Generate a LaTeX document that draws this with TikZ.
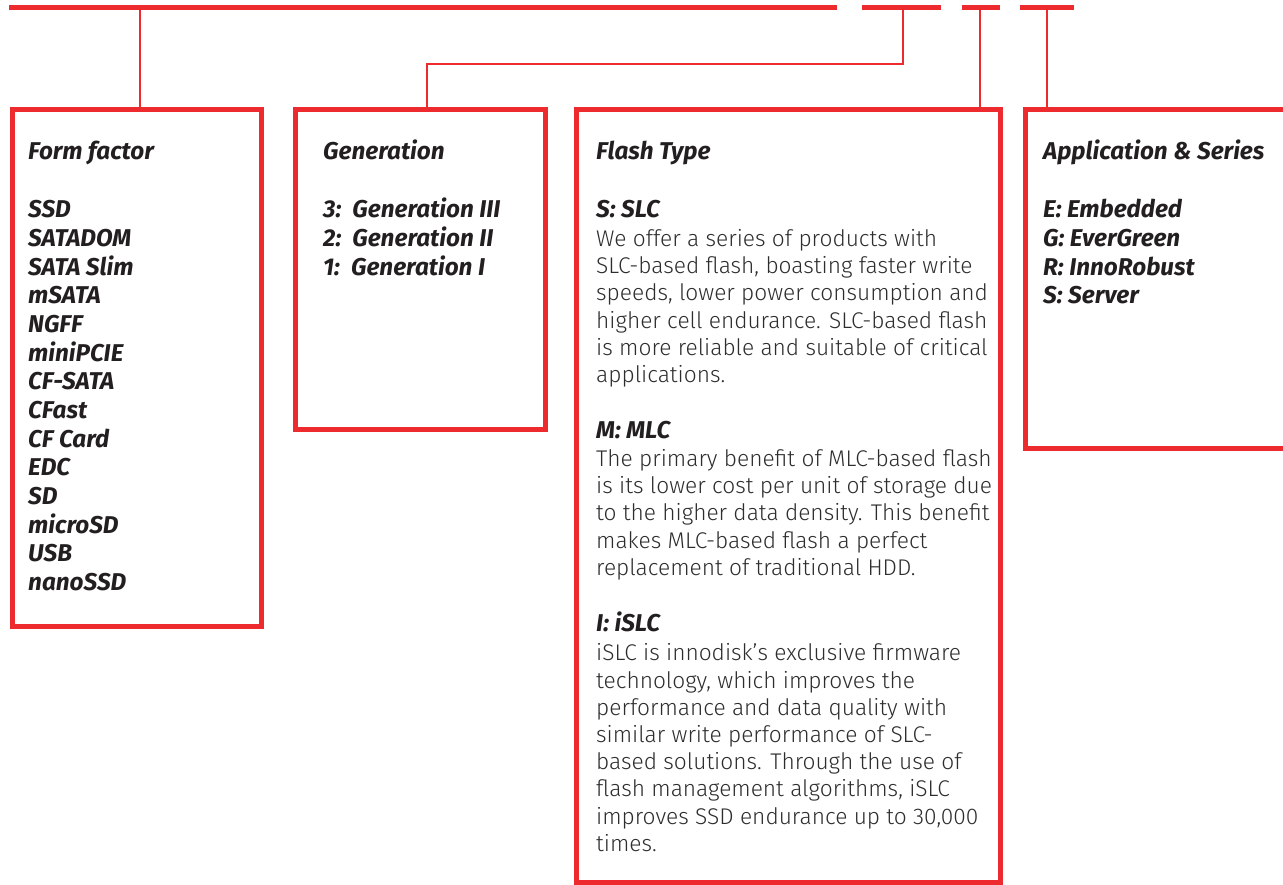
\documentclass[tikz,border=0pt]{standalone}
\usepackage{fontspec}
\setmainfont{Fira Sans}
\newfontfamily\lightfont{Fira Sans Light}
\definecolor{ired}{RGB}{237,43,46}
\definecolor{headc}{RGB}{35,31,32}
\definecolor{bodyc}{RGB}{45,45,45}
\newcommand{\hfnt}{\fontsize{24.3}{28}\selectfont\bfseries\itshape}
\newcommand{\bfnt}{\lightfont\fontsize{22.7}{27}\selectfont}
\tikzset{
  box/.style={draw=ired, line width=5pt, inner sep=0pt, rectangle},
  bar/.style={draw=ired, line width=5pt},
  link/.style={draw=ired, line width=2pt},
  head/.style={anchor=base west, inner sep=0pt, font=\hfnt, text=headc},
  body/.style={anchor=base west, inner sep=0pt, font=\bfnt, text=bodyc},
}
\begin{document}
\begin{tikzpicture}[x=1pt,y=-1pt]
\useasboundingbox (0,0) rectangle (1283,885);
\clip (0,0) rectangle (1283,885);
% top bars
\coordinate (b1s) at (9,7.5);   \coordinate (b1e) at (837,7.5);
\coordinate (b2s) at (862,7.5); \coordinate (b2e) at (941,7.5);
\coordinate (b3s) at (962,7.5); \coordinate (b3e) at (1000,7.5);
\coordinate (b4s) at (1020,7.5);\coordinate (b4e) at (1074,7.5);
\draw[bar] (b1s) -- (b1e);
\draw[bar] (b2s) -- (b2e);
\draw[bar] (b3s) -- (b3e);
\draw[bar] (b4s) -- (b4e);
% boxes
\node[box, minimum width=249pt, minimum height=517pt] (ff) at (136.5,368) {};
\node[box, minimum width=250pt, minimum height=319.5pt] (gen) at (420,269.25) {};
\node[box, minimum width=424pt, minimum height=773pt] (fl) at (788,496) {};
\node[box, minimum width=274.5pt, minimum height=338.5pt] (app) at (1162.75,278.75) {};
% connectors
\coordinate (c1) at (140,7.5);
\draw[link] (c1) -- (c1 |- ff.north);
\coordinate (c2) at (903,7.5);
\coordinate (g2) at (427,64);
\draw[link] (c2) |- (g2) -- (g2 |- gen.north);
\coordinate (c3) at (980,7.5);
\draw[link] (c3) -- (c3 |- fl.north);
\coordinate (c4) at (1047,7.5);
\draw[link] (c4) -- (c4 |- app.north);
% Form factor
\node[head] (ffT) at (28,160) {Form factor};
\foreach \t [count=\i from 0] in {SSD,SATADOM,SATA Slim,mSATA,NGFF,miniPCIE,CF-SATA,CFast,CF Card,EDC,SD,microSD,USB,nanoSSD}
  \node[head] (ff\i) at (28,218+28.65*\i) {\t};
% Generation
\node[head] (genT) at (323,160) {Generation};
\foreach \t [count=\i from 0] in {{3:\ \ Generation III},{2:\ \ Generation II},{1:\ \ Generation I}}
  \node[head] (gen\i) at (323,218+28.65*\i) {\t};
% Application
\node[head] (appT) at (1043,160) {Application \& Series};
\foreach \t [count=\i from 0] in {{E: Embedded},{G: EverGreen},{R: InnoRobust},{S: Server}}
  \node[head] (app\i) at (1043,218+28.65*\i) {\t};
% Flash type
\node[head] (flT) at (596,160) {Flash Type};
\node[head] (flS) at (596,218) {S: SLC};
\foreach \t [count=\i from 0] in {{We offer a series of products with},{SLC-based flash, boasting faster write},{speeds, lower power consumption and},{higher cell endurance. SLC-based flash},{is more reliable and suitable of critical},{applications.}}
  \node[body] (flSb\i) at (596,246.5+27.2*\i) {\t};
\node[head] (flM) at (596,438.7) {M: MLC};
\foreach \t [count=\i from 0] in {{The primary benefit of MLC-based flash},{is its lower cost per unit of storage due},{to the higher data density. This benefit},{makes MLC-based flash a perfect},{replacement of traditional HDD.}}
  \node[body] (flMb\i) at (596,466.5+27.2*\i) {\t};
\node[head] (flI) at (596,631.7) {I: iSLC};
\foreach \t [count=\i from 0] in {{iSLC is innodisk’s exclusive firmware},{technology, which improves the},{performance and data quality with},{similar write performance of SLC-},{based solutions. Through the use of},{flash management algorithms, iSLC},{improves SSD endurance up to 30,000},{times.}}
  \node[body] (flIb\i) at (596,660.8+27.2*\i) {\t};
\end{tikzpicture}
\end{document}
